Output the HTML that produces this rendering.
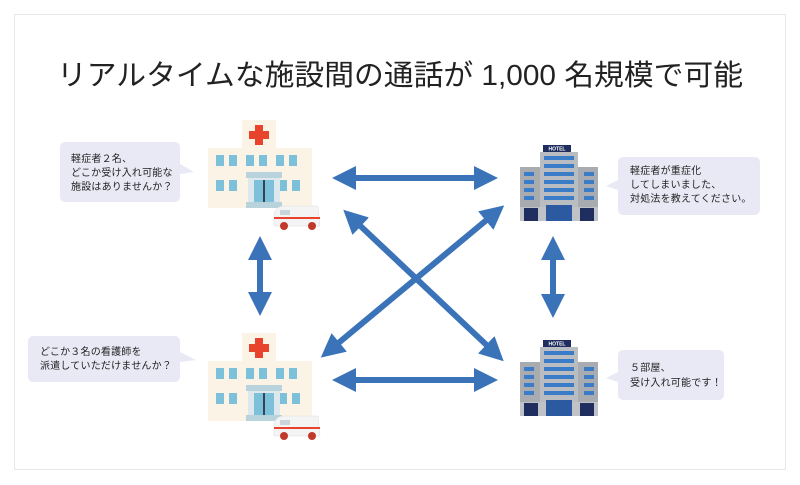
<!DOCTYPE html>
<html><head><meta charset="utf-8"><style>
body{margin:0;background:#fff;width:800px;height:485px;overflow:hidden}
svg{display:block}
text{font-family:"Liberation Sans","Noto Sans CJK JP",sans-serif}
.b{font-size:10px;fill:#222;letter-spacing:0.2px}
</style></head><body>
<svg width="800" height="485" viewBox="0 0 800 485">
<defs>
<g id="hosp">
<rect x="34" y="0" width="34" height="28" fill="#fbf4e6"/>
<rect x="47" y="5" width="8" height="20" fill="#e8432c"/><rect x="41" y="11" width="20" height="8" fill="#e8432c"/>
<rect x="0" y="28" width="104" height="60" fill="#fbf4e6"/>
<g fill="#7dc0d9">
<rect x="8" y="35" width="8" height="11"/><rect x="21" y="35" width="8" height="11"/><rect x="38" y="35" width="8" height="11"/><rect x="51" y="35" width="8" height="11"/><rect x="68" y="35" width="8" height="11"/><rect x="81" y="35" width="8" height="11"/>
<rect x="8" y="60" width="8" height="11"/><rect x="21" y="60" width="8" height="11"/><rect x="71" y="60" width="8" height="11"/><rect x="84" y="60" width="8" height="11"/>
</g>
<rect x="38" y="52" width="36" height="6" fill="#b9d3dd"/>
<rect x="40" y="58" width="32" height="24" fill="#dde8ec"/>
<rect x="46" y="60" width="20" height="22" fill="#7dc0d9"/><rect x="55" y="60" width="2" height="22" fill="#345"/>
<rect x="38" y="82" width="36" height="6" fill="#b9d3dd"/>
</g>
<g id="amb">
<path d="M0 10 Q2 2 10 2 L44 2 L46 22 L0 22 Z" fill="#f4f4f4" stroke="#ddd" stroke-width="0.5"/>
<rect x="0" y="13" width="46" height="2" fill="#e8432c"/>
<rect x="6" y="6" width="10" height="5" fill="#c8d6dc"/>
<circle cx="10" cy="22" r="4" fill="#c0392b"/><circle cx="38" cy="22" r="4" fill="#c0392b"/>
</g>
<g id="hotel">
<rect x="23" y="0" width="28" height="7" fill="#1f2e5e"/>
<text x="37" y="5.5" font-size="5" fill="#fff" text-anchor="middle" font-weight="bold">HOTEL</text>
<rect x="0" y="22" width="78" height="40" fill="#a8abb0"/>
<rect x="20" y="7" width="38" height="55" fill="#b9bcc0"/>
<g fill="#3a7cc8">
<rect x="24" y="11" width="30" height="4"/><rect x="24" y="19" width="30" height="4"/><rect x="24" y="27" width="30" height="4"/><rect x="24" y="35" width="30" height="4"/><rect x="24" y="43" width="30" height="4"/><rect x="24" y="51" width="30" height="4"/>
<rect x="4" y="27" width="10" height="4"/><rect x="4" y="35" width="10" height="4"/><rect x="4" y="43" width="10" height="4"/><rect x="4" y="51" width="10" height="4"/>
<rect x="64" y="27" width="10" height="4"/><rect x="64" y="35" width="10" height="4"/><rect x="64" y="43" width="10" height="4"/><rect x="64" y="51" width="10" height="4"/>
</g>
<rect x="0" y="62" width="78" height="14" fill="#bfc2c6"/>
<rect x="4" y="63" width="14" height="13" fill="#1f2e5e"/><rect x="60" y="63" width="14" height="13" fill="#1f2e5e"/>
<rect x="26" y="60" width="26" height="16" fill="#2b5aa0"/>
</g>
<marker id="ah" viewBox="0 0 10 10" refX="5" refY="5" markerWidth="4" markerHeight="4.4" orient="auto-start-reverse" markerUnits="strokeWidth"><path d="M0 0 L10 5 L0 10 Z" fill="#3b73b9"/></marker>
</defs>
<rect x="14.5" y="14.5" width="771" height="455" fill="#fff" stroke="#e6e6e6"/>
<text x="400" y="85" font-size="29" text-anchor="middle" fill="#222" textLength="686" lengthAdjust="spacingAndGlyphs">リアルタイムな施設間の通話が 1,000 名規模で可能</text>

<g stroke="#3b73b9" stroke-width="6" marker-start="url(#ah)" marker-end="url(#ah)">
<line x1="344" y1="178" x2="486" y2="178"/>
<line x1="344" y1="380" x2="486" y2="380"/>
<line x1="260" y1="248" x2="260" y2="304"/>
<line x1="553" y1="248" x2="553" y2="306"/>
<line x1="352" y1="218" x2="495" y2="353"/>
<line x1="495" y1="213" x2="330" y2="350"/>
</g>

<use href="#hosp" x="208" y="120"/>
<use href="#amb" x="274" y="204"/>
<use href="#hosp" x="208" y="333"/>
<use href="#amb" x="274" y="414"/>
<use href="#hotel" x="520" y="145"/>
<use href="#hotel" x="520" y="340"/>

<path d="M66 142 H174 Q180 142 180 148 V164 L194 172 L180 174 V196 Q180 202 174 202 H66 Q60 202 60 196 V148 Q60 142 66 142 Z" fill="#e9e9f5"/>
<text class="b" x="71" y="162">軽症者２名、</text>
<text class="b" x="71" y="176">どこか受け入れ可能な</text>
<text class="b" x="71" y="190">施設はありませんか？</text>

<path d="M34 336 H174 Q180 336 180 342 V352 L196 360 L180 362 V376 Q180 382 174 382 H34 Q28 382 28 376 V342 Q28 336 34 336 Z" fill="#e9e9f5"/>
<text class="b" x="40" y="355">どこか３名の看護師を</text>
<text class="b" x="40" y="369">派遣していただけませんか？</text>

<path d="M624 157 H754 Q760 157 760 163 V209 Q760 215 754 215 H624 Q618 215 618 209 V190 L606 186 L618 180 V163 Q618 157 624 157 Z" fill="#e9e9f5"/>
<text class="b" x="630" y="174">軽症者が重症化</text>
<text class="b" x="630" y="188">してしまいました、</text>
<text class="b" x="630" y="202">対処法を教えてください。</text>

<path d="M624 350 H718 Q724 350 724 356 V394 Q724 400 718 400 H624 Q618 400 618 394 V382 L606 378 L618 372 V356 Q618 350 624 350 Z" fill="#e9e9f5"/>
<text class="b" x="630" y="371">５部屋、</text>
<text class="b" x="630" y="386">受け入れ可能です！</text>
</svg>
</body></html>
